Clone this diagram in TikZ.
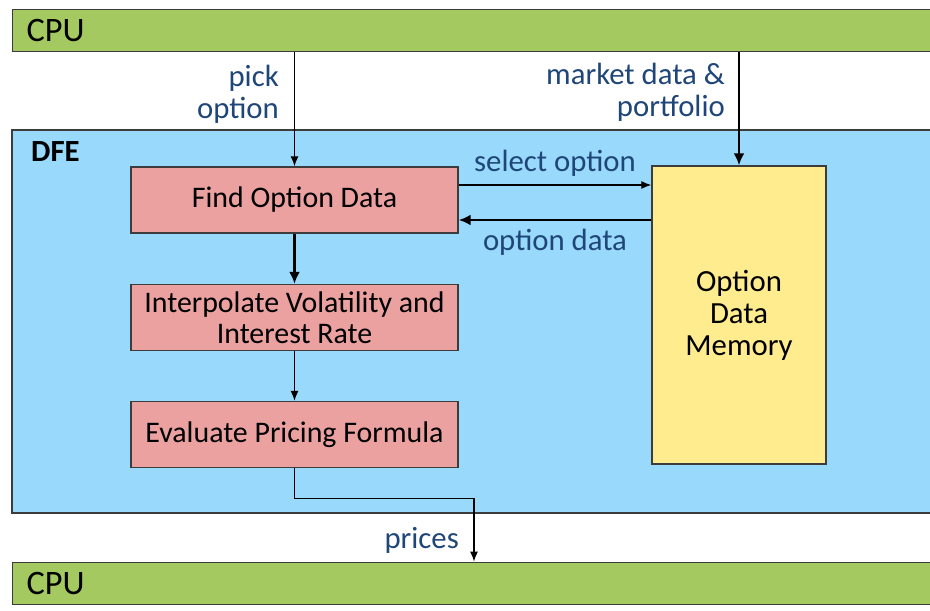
\documentclass[tikz,border=0pt]{standalone}
\usepackage{fontspec}
\setmainfont{Carlito}
\usepackage{tikz}
\usetikzlibrary{arrows.meta, positioning, calc}
\usepackage{xcolor}
\definecolor{cpugreen}{RGB}{163,201,96}
\definecolor{dfeblue}{RGB}{153,217,251}
\definecolor{stagepink}{RGB}{235,161,160}
\definecolor{memyellow}{RGB}{255,236,143}
\definecolor{labelblue}{RGB}{31,70,120}
\definecolor{edgegray}{RGB}{60,60,60}
\tikzset{
  cpubar/.style={rectangle, draw=edgegray, fill=cpugreen, thick,
                 minimum height=0.84cm, text width=18.2cm, align=left,
                 inner xsep=0.28cm, font=\fontsize{19.5}{22}\selectfont},
  dfebox/.style={rectangle, draw=edgegray, fill=dfeblue, thick},
  stage/.style={rectangle, draw=edgegray, fill=stagepink, thick,
                minimum width=6.54cm, minimum height=1.32cm, align=center,
                font=\fontsize{17}{17.6}\selectfont},
  memory/.style={rectangle, draw=edgegray, fill=memyellow, thick,
                 minimum width=3.48cm, minimum height=5.96cm, align=center,
                 font=\fontsize{17.5}{18.2}\selectfont},
  flowlabel/.style={text=labelblue, font=\fontsize{17.5}{18.2}\selectfont},
  thinflow/.style={line width=0.7pt, -{Latex[length=2mm, width=1.6mm]}},
  thickflow/.style={line width=1.6pt, -{Latex[length=2.4mm, width=2.2mm]}},
}
\begin{document}
\begin{tikzpicture}
    \useasboundingbox (0,0) rectangle (18.6,12.2);
    % Host and DFE blocks
    \node[cpubar, anchor=south west] (cputop) at (0.24,11.16) {CPU};
    \node[cpubar, anchor=south west] (cpubot) at (0.24,0.10) {CPU};
    \draw[dfebox] (0.24,1.94) rectangle (19.0,9.60);
    \node[anchor=west, font=\fontsize{17.5}{20}\selectfont\bfseries] (dfe) at (0.50,9.16) {DFE};
    % Pipeline stages
    \node[stage] (find)   at (5.89,8.20) {Find Option Data};
    \node[stage] (interp) at (5.89,5.85) {Interpolate Volatility and\\Interest Rate};
    \node[stage] (eval)   at (5.89,3.51) {Evaluate Pricing Formula};
    \node[memory] (mem)   at (14.78,5.90) {Option\\Data\\Memory};
    % Helper points
    \coordinate (sel) at ([yshift=3mm]find.east);
    \coordinate (opt) at ([yshift=-4mm]find.east);
    \coordinate (bend) at ($(eval.south)+(0,-0.60)$);
    \coordinate (drop) at (9.48,0);
    % Connections
    \draw[thinflow] (find.north |- cputop.south) -- (find.north);
    \draw[thickflow] (mem.north |- cputop.south) -- (mem.north);
    \draw[thinflow] (sel) -- node[flowlabel, above=1pt] {select option} (sel -| mem.west);
    \draw[thickflow] (opt -| mem.west) -- node[flowlabel, below=1pt] {option data} (opt);
    \draw[thickflow] (find) -- (interp);
    \draw[thinflow] (interp) -- (eval);
    \draw[thinflow] (eval.south) -- (bend) -| (drop |- cpubot.north);
    % Labels on host links
    \node[flowlabel, anchor=east, align=right] (pick) at (5.70,10.32) {pick\\option};
    \node[flowlabel, anchor=east, align=right] (mkt) at (14.62,10.36) {market data \&\\portfolio};
    \node[flowlabel, anchor=east] (prices) at (9.30,1.40) {prices};
\end{tikzpicture}
\end{document}
